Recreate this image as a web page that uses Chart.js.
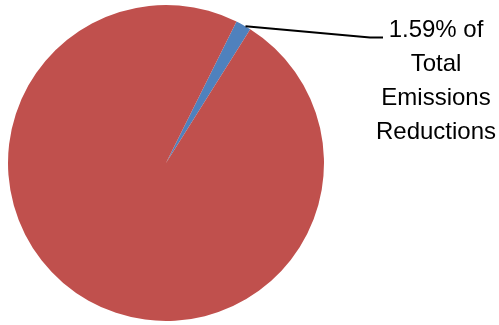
<!DOCTYPE html>
<html>
<head>
<meta charset="utf-8">
<script src="https://cdn.jsdelivr.net/npm/chart.js@4/dist/chart.umd.min.js"></script>
<style>
html,body{margin:0;padding:0;background:#fff;}
#wrap{width:499px;height:325px;position:relative;}
</style>
</head>
<body>
<div id="wrap"><canvas id="c" width="499" height="325"></canvas></div>
<script>
const categories = ["Emissions Reductions", "Other"];
const shares = [1.59, 98.41];
const sliceColors = ["#4F81BD", "#C0504D"];
const calloutLines = ["1.59% of", "Total", "Emissions", "Reductions"];

const callout = {
  id: 'callout',
  afterDatasetsDraw(chart) {
    const arc = chart.getDatasetMeta(0).data[0];
    const mid = (arc.startAngle + arc.endAngle) / 2;
    const r = arc.outerRadius;
    const sx = arc.x + Math.cos(mid) * r + 2;
    const sy = arc.y + Math.sin(mid) * r + 1;
    const ctx = chart.ctx;
    ctx.save();
    ctx.strokeStyle = '#000';
    ctx.lineWidth = 2;
    ctx.beginPath();
    ctx.moveTo(sx, sy);
    ctx.lineTo(370, 37.5);
    ctx.lineTo(383, 37.5);
    ctx.stroke();
    ctx.fillStyle = '#000';
    ctx.font = '24px "Liberation Sans", Arial, sans-serif';
    ctx.textAlign = 'center';
    ctx.textBaseline = 'middle';
    const ys = [30, 64, 98, 132];
    calloutLines.forEach((t, i) => ctx.fillText(t, 436, ys[i]));
    ctx.restore();
  }
};

new Chart(document.getElementById('c'), {
  type: 'pie',
  data: {
    labels: categories,
    datasets: [{
      data: shares,
      backgroundColor: sliceColors,
      borderWidth: 0
    }]
  },
  options: {
    responsive: false,
    animation: false,
    rotation: 26.5,
    layout: { padding: { left: 8, right: 175, top: 5, bottom: 4 } },
    plugins: { legend: { display: false }, tooltip: { enabled: false } }
  },
  plugins: [callout]
});
</script>
</body>
</html>
